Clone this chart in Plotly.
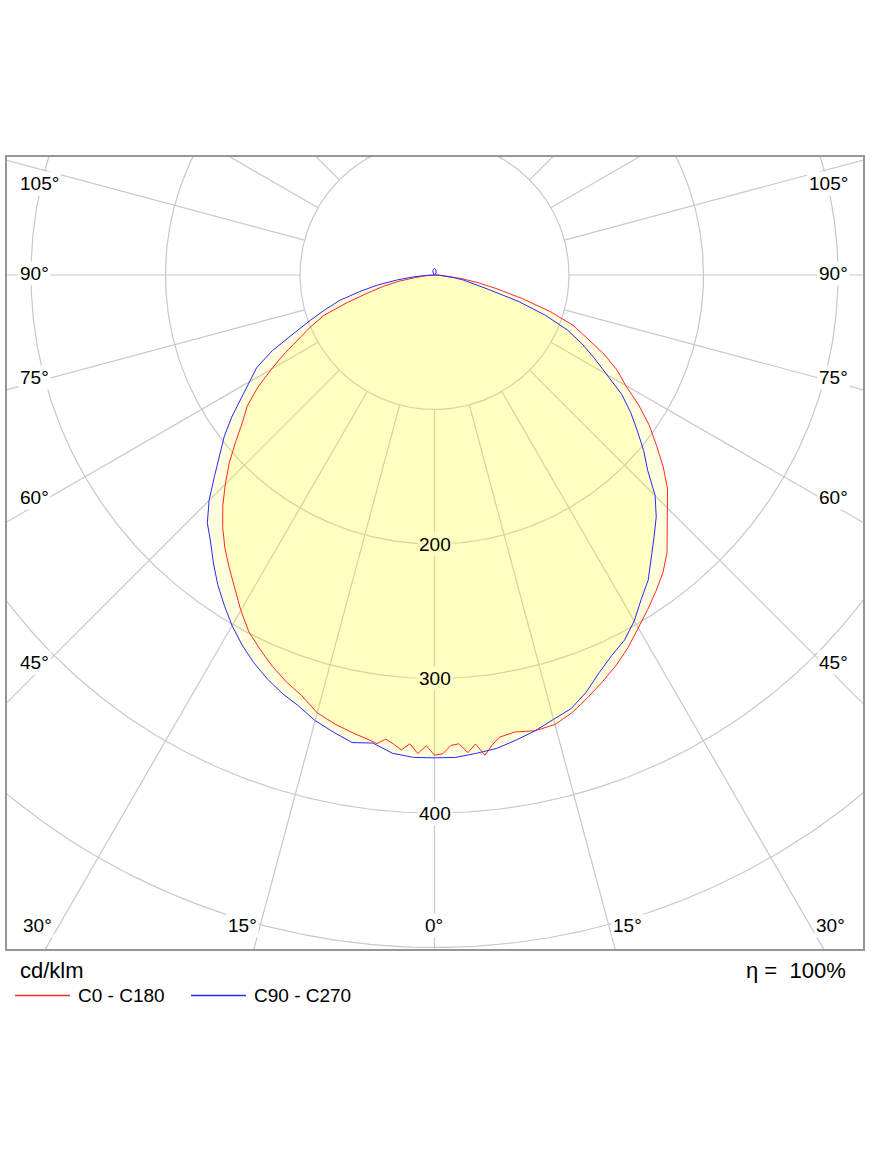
import numpy as np
import plotly.graph_objects as go

# ---------------- data (cd/klm), gamma angle in degrees ----------------
# negative angles = left half plane (C180 / C270), positive = right (C0 / C90)
red_angles = [-90, -87.5, -85, -82.5, -80, -77.5, -75, -72.5, -70, -67.5, -65, -62.5,
              -60, -57.5, -55, -52.5, -50, -47.5, -45, -42.5, -40, -37.5, -35, -32.5,
              -30, -27.5, -25, -22.5, -20, -17.5, -15, -12.5, -10,
              -8, -7, -6, -5, -4, -3, -2, -1, 0, 1, 2, 3, 4, 5, 6, 7, 8,
              10, 12.5, 15, 17.5, 20, 22.5, 25, 27.5, 30, 32.5, 35, 37.5, 40, 42.5,
              45, 47.5, 50, 52.5, 55, 57.5, 60, 62.5, 65, 67.5, 70, 72.5, 75, 77.5,
              80, 82.5, 85, 87.5, 90]
red_values = [0, 3, 6, 14, 27, 39, 51, 68, 87, 99, 111, 125,
              140, 156, 170, 180, 193, 207, 220, 233, 245, 256, 266, 276,
              288, 299, 307, 315, 322, 328, 337, 342, 346,
              349, 351, 347, 350, 354, 349, 356, 350, 357, 356, 350, 349, 356, 350, 359, 352, 347,
              345, 347, 346, 341, 334, 327, 320, 312, 303, 295, 287, 279, 269, 256,
              245, 235, 222, 208, 195, 180, 164, 153, 139, 122, 110, 90, 67, 48,
              33, 20, 10, 4, 0]

blue_angles = [-180, -165, -150, -120, -100,
               -90, -87.5, -85, -82.5, -80, -77.5, -75, -72.5, -70, -67.5, -65, -62.5,
               -60, -57.5, -55, -52.5, -50, -47.5, -45, -42.5, -40, -37.5, -35, -32.5,
               -30, -27.5, -25, -22.5, -20, -17.5, -15, -12.5, -10, -7.5, -5, -2.5,
               0, 2.5, 5, 7.5, 10, 12.5, 15, 17.5, 20, 22.5, 25, 27.5, 30, 32.5, 35,
               37.5, 40, 42.5, 45, 47.5, 50, 52.5, 55, 57.5, 60, 62.5, 65, 67.5, 70,
               72.5, 75, 77.5, 80, 82.5, 85, 87.5, 90,
               100, 120, 150, 165, 180]
blue_values = [5, 4, 2.5, 0.8, 0.2,
               0, 6, 15, 28, 43, 57, 73, 85, 98, 113, 133, 149,
               159, 170, 184, 197, 209, 222, 237, 250, 259, 270, 281, 291,
               301, 310, 318, 325, 331, 336, 343, 348, 353, 351, 357, 359,
               359, 359, 357, 355, 351, 347, 342, 338, 330, 320, 312, 306, 297, 286, 277,
               265, 254, 244, 232, 215, 203, 190, 178, 165, 148, 134, 121, 107, 88,
               66, 42, 30, 22, 14, 8, 3, 0,
               0.2, 0.8, 2.5, 4, 5]

ring_values = [100, 200, 300, 400, 500]
labelled_rings = [200, 300, 400]
spoke_angles = list(range(0, 360, 15))

side_labels = ["105°", "90°", "75°", "60°", "45°"]
bottom_labels = ["30°", "15°", "0°", "15°", "30°"]
series_names = ["C0 - C180", "C90 - C270"]
unit_text = "cd/klm"
eta_text = "η =\u00a0\u00a0100%"

# ---------------- layout geometry ----------------
W, H = 875, 1166
L, R, T, B = 7, 863, 157, 949          # plot area in pixels
CX, CY = 434.5, 275.0                  # pole position in pixels
S = 1.345                              # pixels per cd/klm

x_range = [(L - CX) / S, (R - CX) / S]
y_range = [-(B - CY) / S, (CY - T) / S]

FONT = "Liberation Sans, Arial, sans-serif"
GRID = "rgb(200,200,200)"
FILL = "rgba(255,255,0,0.13)"
RED = "rgb(255,40,40)"
BLUE = "rgb(40,40,255)"


def polar_xy(angles, values):
    th = np.radians(np.asarray(angles, dtype=float))
    v = np.asarray(values, dtype=float)
    return v * np.sin(th), -v * np.cos(th)


def px(x):
    return (x - L) / (R - L)


def py(y):
    return (B - y) / (B - T)


fig = go.Figure()

# grid rings
t = np.linspace(0, 2 * np.pi, 721)
gx, gy = [], []
for r in ring_values:
    gx += list(r * np.cos(t)) + [None]
    gy += list(r * np.sin(t)) + [None]
# spokes (from the first ring outward)
for a in spoke_angles:
    th = np.radians(a)
    gx += [100 * np.sin(th), 800 * np.sin(th), None]
    gy += [-100 * np.cos(th), -800 * np.cos(th), None]
fig.add_trace(go.Scatter(x=gx, y=gy, mode="lines", line=dict(color=GRID, width=1.2),
                         hoverinfo="skip", showlegend=False))

rx, ry = polar_xy(red_angles, red_values)
bx, by = polar_xy(blue_angles, blue_values)

# fills
for xx, yy in ((rx, ry), (bx, by)):
    fig.add_trace(go.Scatter(x=xx, y=yy, mode="lines", fill="toself", fillcolor=FILL,
                             line=dict(width=0), hoverinfo="skip", showlegend=False))
# outlines
fig.add_trace(go.Scatter(x=rx, y=ry, mode="lines", name=series_names[0],
                         line=dict(color=RED, width=1), showlegend=False))
fig.add_trace(go.Scatter(x=bx, y=by, mode="lines", name=series_names[1],
                         line=dict(color=BLUE, width=1), showlegend=False))

annotations = []
# ring value labels along the 0° spoke
for r in labelled_rings:
    annotations.append(dict(x=0, y=-r, xref="x", yref="y", text=str(r), showarrow=False,
                            xanchor="center", yanchor="middle",
                            font=dict(family=FONT, size=19, color="black"),
                            bgcolor="rgb(255,255,193)" if r < 350 else "white",
                            borderpad=1))

side_y = [183, 273, 377, 497, 662]
for lab, yy in zip(side_labels, side_y):
    annotations.append(dict(x=px(18), y=py(yy), xref="paper", yref="paper", text=lab,
                            showarrow=False, xanchor="left", yanchor="middle",
                            font=dict(family=FONT, size=19, color="black"),
                            bgcolor="white", borderpad=1))
    annotations.append(dict(x=px(850), y=py(yy), xref="paper", yref="paper", text=lab,
                            showarrow=False, xanchor="right", yanchor="middle",
                            font=dict(family=FONT, size=19, color="black"),
                            bgcolor="white", borderpad=1))

bottom_x = [37, 242.5, 434, 627.5, 830]
for lab, xx in zip(bottom_labels, bottom_x):
    annotations.append(dict(x=px(xx), y=py(925), xref="paper", yref="paper", text=lab,
                            showarrow=False, xanchor="center", yanchor="middle",
                            font=dict(family=FONT, size=19, color="black"),
                            bgcolor="white", borderpad=1))

annotations.append(dict(x=px(18), y=py(971), xref="paper", yref="paper", text=unit_text,
                        showarrow=False, xanchor="left", yanchor="middle",
                        font=dict(family=FONT, size=22, color="black")))
annotations.append(dict(x=px(848), y=py(970), xref="paper", yref="paper", text=eta_text,
                        showarrow=False, xanchor="right", yanchor="middle",
                        font=dict(family=FONT, size=22, color="black")))
annotations.append(dict(x=px(76), y=py(996), xref="paper", yref="paper", text=series_names[0],
                        showarrow=False, xanchor="left", yanchor="middle",
                        font=dict(family=FONT, size=19, color="black")))
annotations.append(dict(x=px(252), y=py(996), xref="paper", yref="paper", text=series_names[1],
                        showarrow=False, xanchor="left", yanchor="middle",
                        font=dict(family=FONT, size=19, color="black")))

shapes = [
    dict(type="line", xref="paper", yref="paper", x0=px(15), x1=px(70), y0=py(995.5), y1=py(995.5),
         line=dict(color=RED, width=1.5)),
    dict(type="line", xref="paper", yref="paper", x0=px(191), x1=px(246), y0=py(995.5), y1=py(995.5),
         line=dict(color=BLUE, width=1.5)),
]

axis_common = dict(showgrid=False, zeroline=False, showticklabels=False, ticks="",
                   showline=True, mirror=True, linecolor="rgb(150,150,150)", linewidth=1.5,
                   fixedrange=True)
fig.update_layout(
    width=W, height=H,
    margin=dict(l=L, r=W - R, t=T, b=H - B, pad=0),
    paper_bgcolor="white", plot_bgcolor="white",
    xaxis=dict(range=x_range, **axis_common),
    yaxis=dict(range=y_range, **axis_common),
    annotations=annotations,
    shapes=shapes,
    showlegend=False,
)

fig.write_html("out.html")
